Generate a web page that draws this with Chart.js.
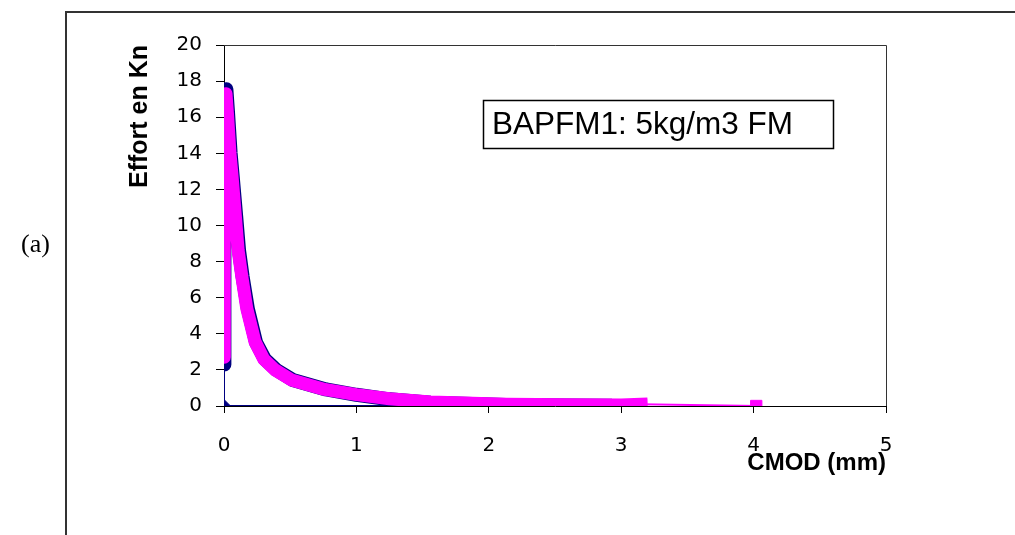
<!DOCTYPE html>
<html>
<head>
<meta charset="utf-8">
<script src="https://cdn.jsdelivr.net/npm/chart.js@4/dist/chart.umd.min.js"></script>
<style>
html,body{margin:0;padding:0;background:#fff;}
#c{display:block;}
</style>
</head>
<body>
<canvas id="c" width="1015" height="535"></canvas>
<script>
// ---- data ----
const xTicks = [0, 1, 2, 3, 4, 5];
const yTicks = [0, 2, 4, 6, 8, 10, 12, 14, 16, 18, 20];

// magenta series (square markers)
const magentaX = [0, 0, 0.005, 0.015, 0.026, 0.045, 0.060, 0.085, 0.107, 0.133, 0.172, 0.234, 0.30, 0.385, 0.51, 0.76, 1.0, 1.25, 1.56, 2.13, 2.6, 3.0, 3.15, 4.02];
const magentaY = [2.7, 9.0, 15.5, 17.3, 16.2, 14.0, 12.8, 10.6, 8.6, 7.25, 5.4, 3.56, 2.6, 2.0, 1.44, 0.92, 0.63, 0.40, 0.22, 0.10, 0.07, 0.06, 0.10, 0.0];

// navy series (diamond markers)
const navyX = [2.93, 0, 0, 0, 0.006, 0.018, 0.03, 0.05, 0.066, 0.092, 0.114, 0.14, 0.18, 0.243, 0.31, 0.395, 0.52, 0.77, 1.0, 1.25, 1.56, 2.13, 2.6, 2.93];
const navyY = [0, 0, 2.3, 9.0, 15.5, 17.55, 16.3, 14.0, 12.7, 10.5, 8.6, 7.2, 5.4, 3.5, 2.58, 2.0, 1.44, 0.92, 0.62, 0.37, 0.18, 0.06, 0.03, 0.01];

const xTitle = 'CMOD (mm)';
const yTitle = 'Effort en Kn';
const boxText = 'BAPFM1: 5kg/m3 FM';
const panelLabel = '(a)';

const MAGENTA = '#FF00FF';
const NAVY = '#000080';

const toPts = (xs, ys) => xs.map((x, i) => ({x: x, y: ys[i]}));
const magentaPts = toPts(magentaX, magentaY);
const navyPts = toPts(navyX, navyY);

const decor = {
  id: 'decor',
  beforeDatasetsDraw(chart) {
    const {ctx, chartArea: a} = chart;
    ctx.save();
    ctx.strokeStyle = '#333';
    ctx.lineWidth = 1;
    ctx.beginPath();
    ctx.moveTo(a.left, a.top + 0.5);
    ctx.lineTo(a.right + 0.5, a.top + 0.5);
    ctx.lineTo(a.right + 0.5, a.bottom);
    ctx.stroke();
    ctx.restore();
  },
  afterDraw(chart) {
    const ctx = chart.ctx;
    ctx.save();
    // outer frame (cropped)
    ctx.strokeStyle = '#333';
    ctx.lineWidth = 2;
    ctx.beginPath();
    ctx.moveTo(66, 535);
    ctx.lineTo(66, 12);
    ctx.lineTo(1015, 12);
    ctx.stroke();
    // panel label
    ctx.fillStyle = '#000';
    ctx.font = '26px "Liberation Serif", "Times New Roman", serif';
    ctx.textBaseline = 'alphabetic';
    ctx.textAlign = 'left';
    ctx.fillText(panelLabel, 21, 252);
    // text box
    ctx.strokeStyle = '#000';
    ctx.lineWidth = 1.5;
    ctx.strokeRect(483.5, 100.5, 350, 48);
    ctx.font = '31.5px "Liberation Sans", Arial, sans-serif';
    ctx.fillText(boxText, 492, 134);
    ctx.restore();
  }
};

new Chart(document.getElementById('c'), {
  type: 'scatter',
  data: {
    datasets: [
      {
        label: 'magenta',
        data: magentaPts,
        showLine: true,
        borderColor: MAGENTA,
        backgroundColor: MAGENTA,
        borderWidth: 13,
        borderCapStyle: 'square',
        borderJoinStyle: 'round',
        tension: 0,
        pointStyle: 'rect',
        pointRadius: c => (c.dataIndex >= magentaPts.length - 2 ? 8 : 0),
        pointBackgroundColor: MAGENTA,
        pointBorderColor: MAGENTA,
        pointBorderWidth: 1,
        segment: {
          borderWidth: c => (c.p0DataIndex === magentaPts.length - 2 ? 2 : undefined)
        }
      },
      {
        label: 'navy',
        data: navyPts,
        showLine: true,
        borderColor: NAVY,
        backgroundColor: NAVY,
        borderWidth: 14,
        borderCapStyle: 'butt',
        borderJoinStyle: 'round',
        tension: 0,
        pointStyle: 'rectRot',
        pointRadius: c => (c.dataIndex === 1 || c.dataIndex === 2 ? 6.5 : 0),
        pointBackgroundColor: NAVY,
        pointBorderColor: NAVY,
        pointBorderWidth: 1,
        segment: {
          borderWidth: c => (c.p0DataIndex < 2 ? 2 : undefined)
        }
      }
    ]
  },
  options: {
    responsive: false,
    animation: false,
    events: [],
    layout: {padding: {left: 0, top: 45, right: 129, bottom: 57}},
    plugins: {legend: {display: false}, tooltip: {enabled: false}},
    scales: {
      x: {
        type: 'linear',
        position: 'bottom',
        min: 0, max: 5,
        afterBuildTicks: s => { s.ticks = xTicks.map(v => ({value: v})); },
        ticks: {
          color: '#000',
          font: {family: '"DejaVu Sans", sans-serif', size: 20},
          padding: 21,
          maxRotation: 0,
          autoSkip: false,
          callback: v => String(v)
        },
        grid: {drawOnChartArea: false, drawTicks: true, tickLength: 7, color: '#000', lineWidth: 1},
        border: {display: true, color: '#000', width: 1},
        title: {
          display: true, text: xTitle, align: 'end', color: '#000',
          font: {family: '"Liberation Sans", Arial, sans-serif', weight: 'bold', size: 24},
          padding: {top: 0, bottom: 0}
        },
        afterFit: s => { s.height = 72; s.paddingLeft = 0; s.paddingRight = 0; }
      },
      y: {
        type: 'linear',
        position: 'left',
        min: 0, max: 20,
        afterBuildTicks: s => { s.ticks = yTicks.map(v => ({value: v})); },
        ticks: {
          color: '#000',
          font: {family: '"DejaVu Sans", sans-serif', size: 20},
          padding: 14,
          autoSkip: false,
          callback: v => String(v)
        },
        grid: {drawOnChartArea: false, drawTicks: true, tickLength: 8, color: '#000', lineWidth: 1},
        border: {display: true, color: '#000', width: 1},
        title: {
          display: true, text: yTitle, align: 'end', color: '#000',
          font: {family: '"Liberation Sans", Arial, sans-serif', weight: 'bold', size: 25},
          padding: {top: 125, bottom: 0}
        },
        afterFit: s => { s.width = 224; s.paddingTop = 0; s.paddingBottom = 0; }
      }
    }
  },
  plugins: [decor]
});
</script>
</body>
</html>
